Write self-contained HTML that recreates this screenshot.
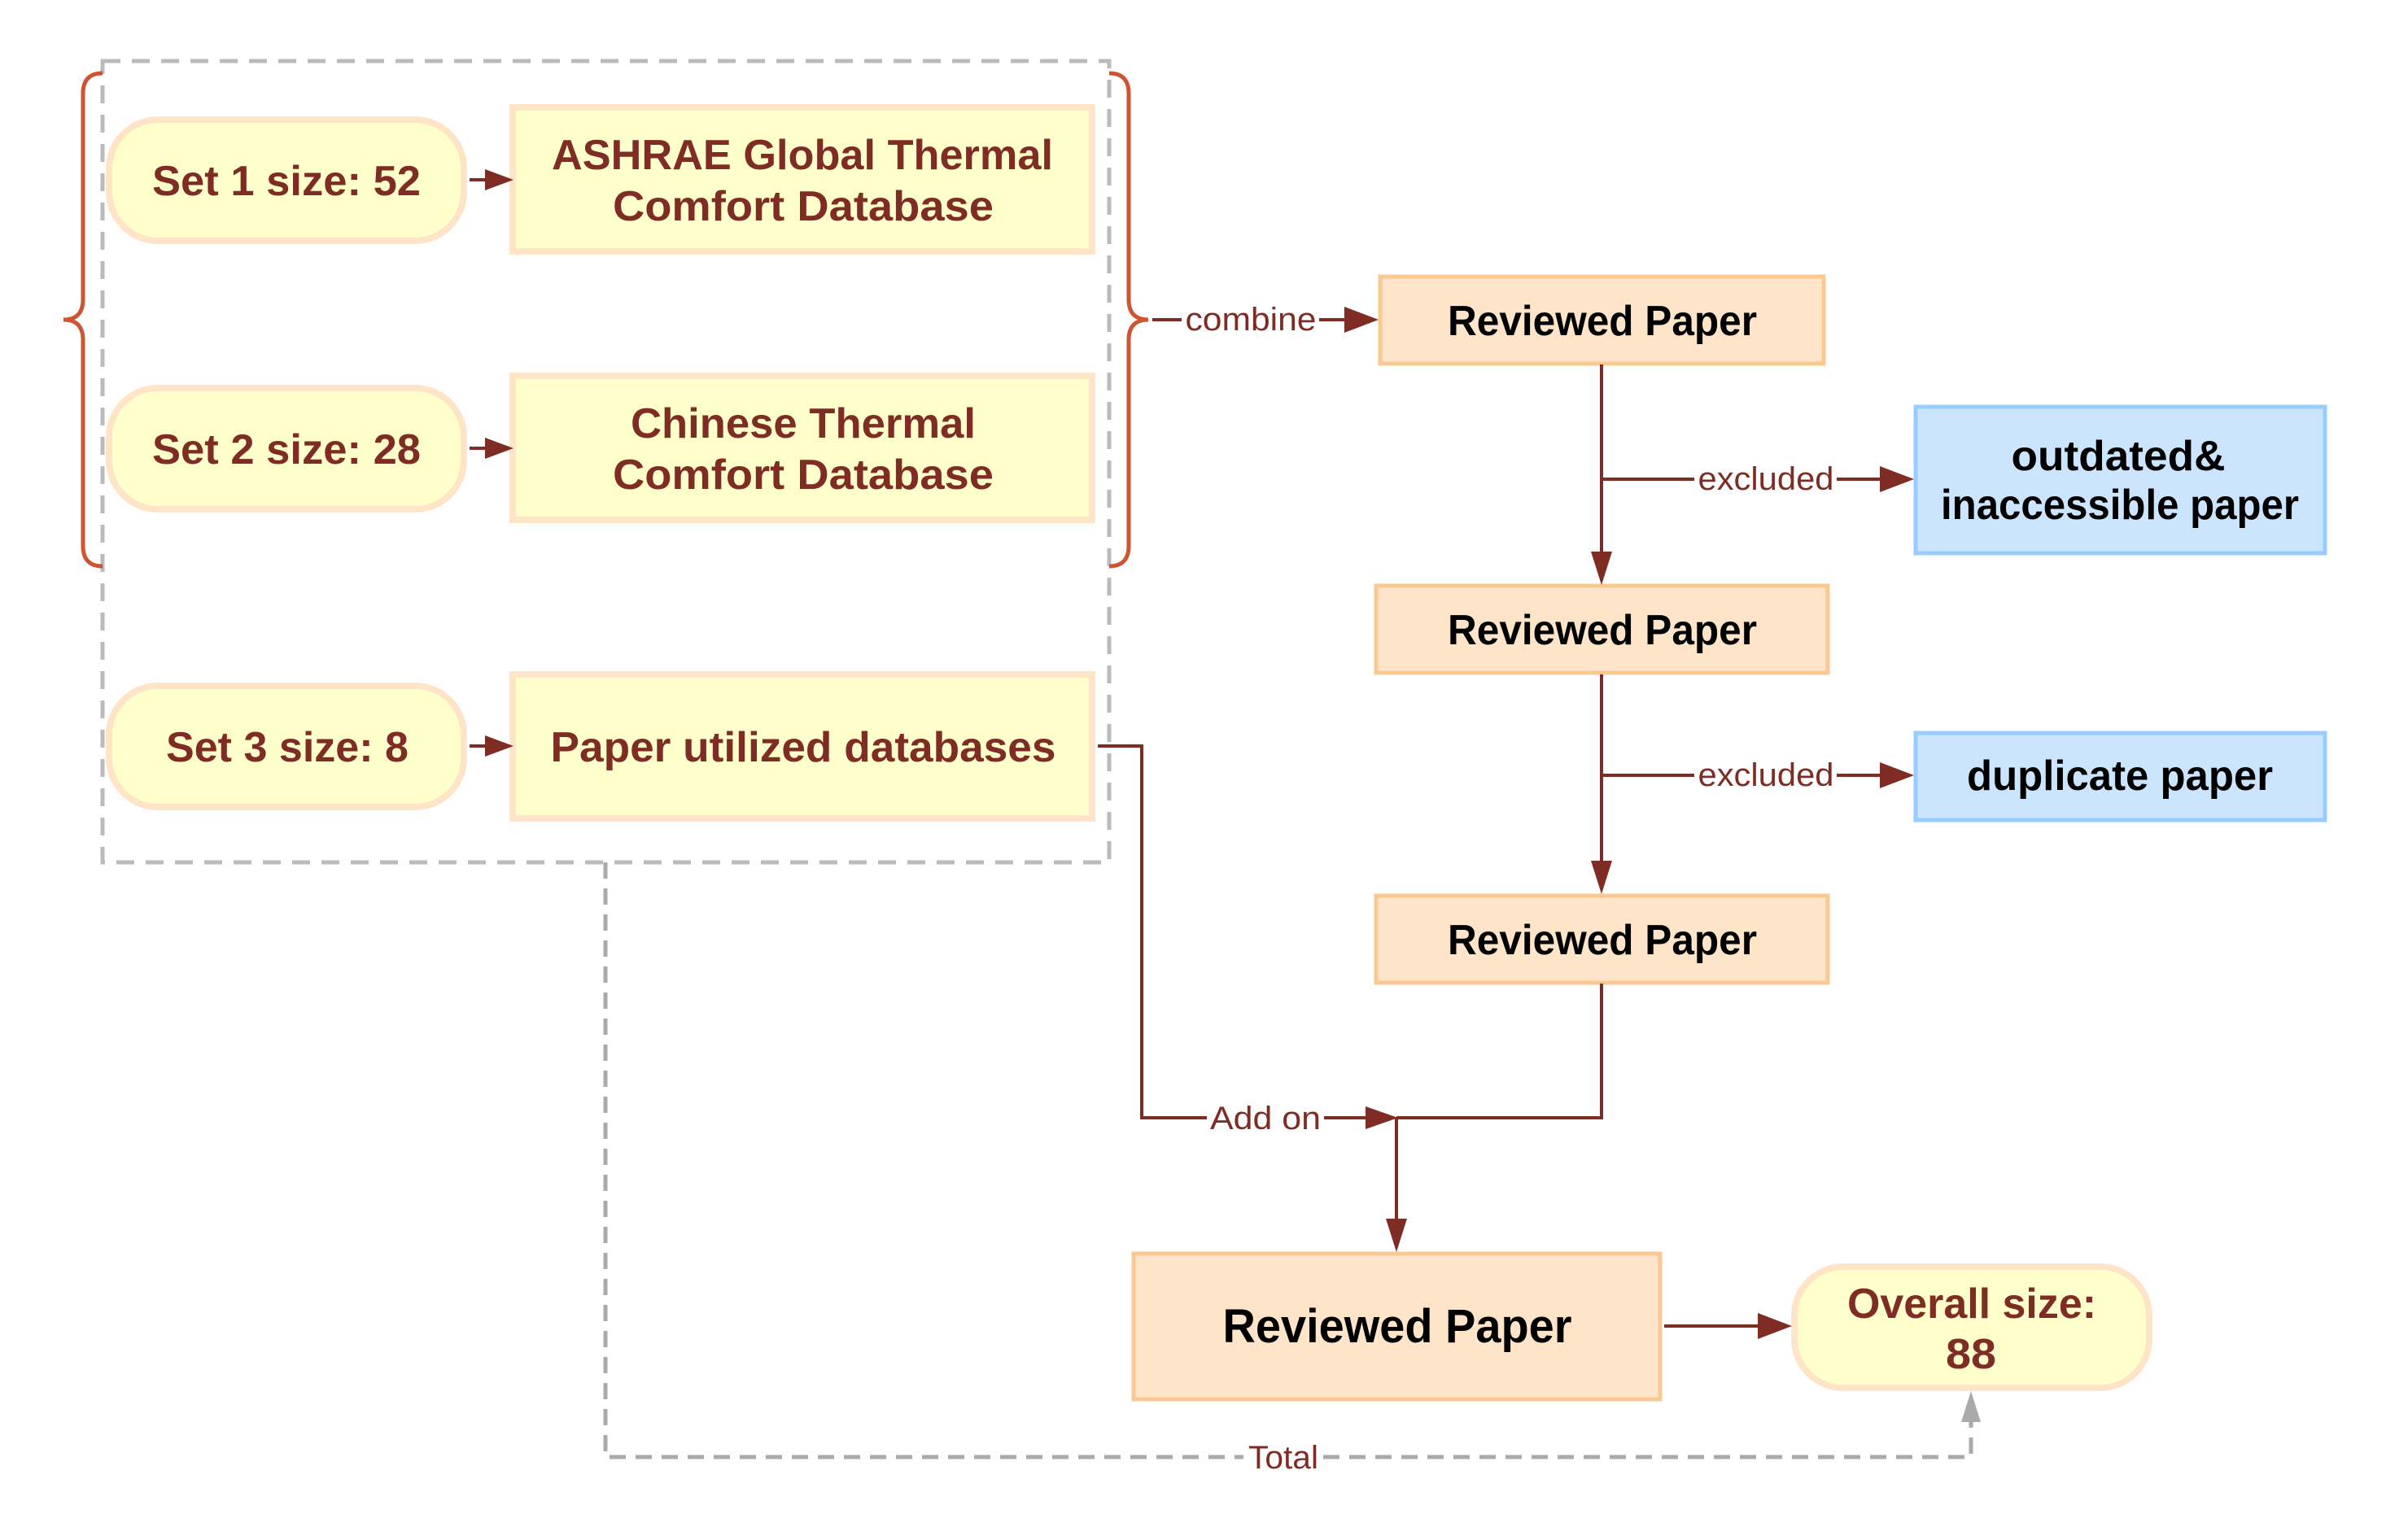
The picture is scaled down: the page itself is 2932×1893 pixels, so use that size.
<!DOCTYPE html>
<html><head><meta charset="utf-8"><style>
html,body{margin:0;padding:0;background:#fff;}
svg{display:block;}
.b{font-family:"Liberation Sans",sans-serif;font-weight:bold;font-size:52px;text-anchor:middle;}
.r{fill:#7f2d24;}
.k{fill:#000;}
.l{font-family:"Liberation Sans",sans-serif;font-size:40px;fill:#7f2d24;text-anchor:middle;}
</style></head><body>
<svg width="2932" height="1893" viewBox="0 0 2932 1893" xmlns="http://www.w3.org/2000/svg">
<rect x="126" y="75" width="1237" height="985" fill="none" stroke="#bbbbbb" stroke-width="5" stroke-dasharray="22,14"/>
<path d="M126,90 Q102,90 102,115 L102,368 Q102,393 78,393 Q102,393 102,418 L102,671 Q102,696 126,696" fill="none" stroke="#cc5533" stroke-width="5"/>
<path d="M1363,90 Q1387,90 1387,115 L1387,368 Q1387,393 1411,393 Q1387,393 1387,418 L1387,671 Q1387,696 1363,696" fill="none" stroke="#cc5533" stroke-width="5"/>
<g fill="#ffffcc" stroke="#ffe4c8" stroke-width="8">
<rect x="134" y="147" width="436" height="149" rx="60"/>
<rect x="134" y="477" width="436" height="149" rx="60"/>
<rect x="134" y="843" width="436" height="149" rx="60"/>
<rect x="2205" y="1557" width="436" height="149" rx="60"/>
</g>
<g fill="#ffffcc" stroke="#ffe4c8" stroke-width="8">
<rect x="630" y="132" width="712" height="177"/>
<rect x="630" y="462" width="712" height="177"/>
<rect x="630" y="829" width="712" height="177"/>
</g>
<g fill="#fee4c9" stroke="#fcc891" stroke-width="5">
<rect x="1696" y="340" width="545" height="107"/>
<rect x="1691" y="720" width="555" height="107"/>
<rect x="1691" y="1101" width="555" height="107"/>
<rect x="1393" y="1541" width="647" height="179"/>
</g>
<g fill="#cce5ff" stroke="#99ccff" stroke-width="5">
<rect x="2354" y="500" width="503" height="180"/>
<rect x="2354" y="901" width="503" height="107"/>
</g>
<g stroke="#7f2d24" stroke-width="4" fill="none">
<line x1="577" y1="221" x2="596" y2="221"/>
<line x1="577" y1="551" x2="596" y2="551"/>
<line x1="577" y1="917" x2="596" y2="917"/>
<line x1="1416" y1="393" x2="1452" y2="393"/>
<line x1="1621" y1="393" x2="1655" y2="393"/>
<line x1="1968" y1="448" x2="1968" y2="680"/>
<line x1="1968" y1="589" x2="2082" y2="589"/>
<line x1="2257" y1="589" x2="2312" y2="589"/>
<line x1="1968" y1="829" x2="1968" y2="1060"/>
<line x1="1968" y1="953" x2="2082" y2="953"/>
<line x1="2257" y1="953" x2="2312" y2="953"/>
<polyline points="1968,1209 1968,1374 1716,1374"/>
<polyline points="1349,917 1403,917 1403,1374 1483,1374"/>
<line x1="1627" y1="1374" x2="1680" y2="1374"/>
<line x1="1716" y1="1374" x2="1716" y2="1500"/>
<line x1="2045" y1="1630" x2="2162" y2="1630"/>
</g>
<g fill="#7f2d24">
<polygon points="596,208 631,221 596,234"/>
<polygon points="596,538 631,551 596,564"/>
<polygon points="596,904 631,917 596,930"/>
<polygon points="1652,377 1694,393 1652,409"/>
<polygon points="1955,678 1968,719 1981,678"/>
<polygon points="2310,573 2352,589 2310,605"/>
<polygon points="1955,1058 1968,1099 1981,1058"/>
<polygon points="2310,937 2352,953 2310,969"/>
<polygon points="1678,1360 1718,1374 1678,1388"/>
<polygon points="1703,1498 1716,1539 1729,1498"/>
<polygon points="2160,1614 2202,1630 2160,1646"/>
</g>
<polyline points="744,1060 744,1791 1528,1791" fill="none" stroke="#aaaaaa" stroke-width="5" stroke-dasharray="20,12"/>
<polyline points="1626,1791 2422,1791 2422,1745" fill="none" stroke="#aaaaaa" stroke-width="5" stroke-dasharray="20,12"/>
<polygon points="2410,1748 2422,1710 2434,1748" fill="#aaaaaa"/>
<text class="l" x="1537" y="406" textLength="161" lengthAdjust="spacingAndGlyphs">combine</text>
<text class="l" x="2170" y="602" textLength="167" lengthAdjust="spacingAndGlyphs">excluded</text>
<text class="l" x="2170" y="966" textLength="167" lengthAdjust="spacingAndGlyphs">excluded</text>
<text class="l" x="1555" y="1388" textLength="136" lengthAdjust="spacingAndGlyphs">Add on</text>
<text class="l" x="1577" y="1805" textLength="86" lengthAdjust="spacingAndGlyphs">Total</text>
<text class="b r" x="352" y="240" textLength="330" lengthAdjust="spacingAndGlyphs">Set 1 size: 52</text>
<text class="b r" x="352" y="570" textLength="330" lengthAdjust="spacingAndGlyphs">Set 2 size: 28</text>
<text class="b r" x="353" y="936" textLength="298" lengthAdjust="spacingAndGlyphs">Set 3 size: 8</text>
<text class="b r" x="986" y="208" textLength="616" lengthAdjust="spacingAndGlyphs">ASHRAE Global Thermal</text>
<text class="b r" x="987" y="271" textLength="468" lengthAdjust="spacingAndGlyphs">Comfort Database</text>
<text class="b r" x="987" y="538" textLength="424" lengthAdjust="spacingAndGlyphs">Chinese Thermal</text>
<text class="b r" x="987" y="601" textLength="468" lengthAdjust="spacingAndGlyphs">Comfort Database</text>
<text class="b r" x="987" y="936" textLength="621" lengthAdjust="spacingAndGlyphs">Paper utilized databases</text>
<text class="b k" x="1969" y="412" textLength="380" lengthAdjust="spacingAndGlyphs">Reviewed Paper</text>
<text class="b k" x="1969" y="792" textLength="380" lengthAdjust="spacingAndGlyphs">Reviewed Paper</text>
<text class="b k" x="1969" y="1173" textLength="380" lengthAdjust="spacingAndGlyphs">Reviewed Paper</text>
<text class="b k" x="1717" y="1650" textLength="429" lengthAdjust="spacingAndGlyphs" style="font-size:58px">Reviewed Paper</text>
<text class="b k" x="2603" y="578" textLength="263" lengthAdjust="spacingAndGlyphs">outdated&amp;</text>
<text class="b k" x="2605" y="638" textLength="440" lengthAdjust="spacingAndGlyphs">inaccessible paper</text>
<text class="b k" x="2605" y="971" textLength="376" lengthAdjust="spacingAndGlyphs">duplicate paper</text>
<text class="b r" x="2423" y="1620" textLength="306" lengthAdjust="spacingAndGlyphs">Overall size:</text>
<text class="b r" x="2422" y="1682" textLength="62" lengthAdjust="spacingAndGlyphs">88</text>
</svg>
</body></html>
